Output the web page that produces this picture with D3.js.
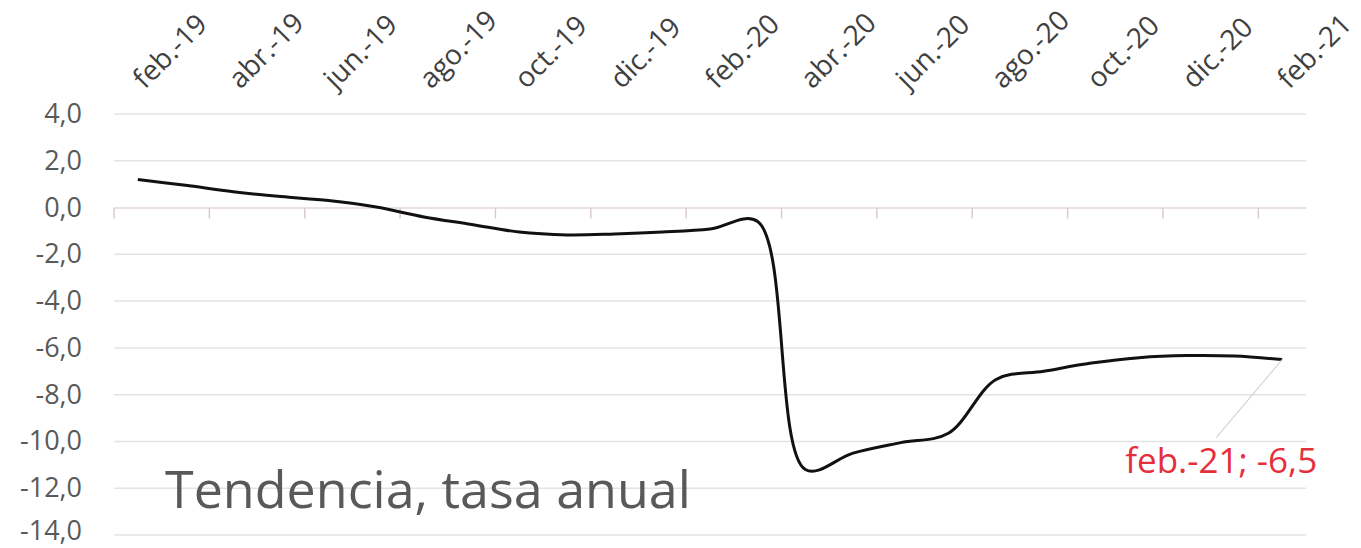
<!DOCTYPE html>
<html>
<head>
<meta charset="utf-8">
<script src="https://cdn.jsdelivr.net/npm/d3@7"></script>
<style>
    body { margin: 0; background: #fff; }
    svg { display: block; font-family: "Open Sans", sans-serif; }
</style>
</head>
<body>
<div id="container"></div>
<script>
const months = ["feb.-19", "mar.-19", "abr.-19", "may.-19", "jun.-19", "jul.-19", "ago.-19", "sep.-19", "oct.-19", "nov.-19", "dic.-19", "ene.-20",
    "feb.-20", "mar.-20", "abr.-20", "may.-20", "jun.-20", "jul.-20", "ago.-20", "sep.-20", "oct.-20", "nov.-20", "dic.-20", "ene.-21", "feb.-21"];
const values = [1.2, 0.95, 0.68, 0.47, 0.3, 0.02, -0.4, -0.72, -1.05, -1.17, -1.13, -1.05,
    -0.92, -0.6, -11.2, -10.5, -10.05, -9.65, -7.35, -7.0, -6.65, -6.42, -6.33, -6.35, -6.5];
const yTicks = [4, 2, 0, -2, -4, -6, -8, -10, -12, -14];
const title = "Tendencia, tasa anual";

document.addEventListener("DOMContentLoaded", () => {
    const w = 1361;
    const h = 548;

    const svg = d3.select("#container")
        .append("svg")
        .attr("width", w)
        .attr("height", h);

    const x = d3.scaleBand()
        .domain(months)
        .range([114, 1306]);

    const y = d3.scaleLinear()
        .domain([-14, 4])
        .range([535, 114]);

    const es = d3.formatLocale({ decimal: ",", thousands: ".", grouping: [3], currency: ["", "€"], minus: "-" });
    const fmt = es.format(".1f");

    // gridlines
    svg.selectAll(".grid")
        .data(yTicks.filter(d => d !== 0))
        .enter().append("line")
        .attr("class", "grid")
        .attr("x1", x.range()[0])
        .attr("x2", x.range()[1])
        .attr("y1", d => y(d))
        .attr("y2", d => y(d))
        .attr("stroke", "#e3e3e3")
        .attr("stroke-width", 1.5);

    // y labels (baseline kept inside the picture)
    svg.selectAll(".ylab")
        .data(yTicks)
        .enter().append("text")
        .attr("class", "ylab")
        .attr("x", 82)
        .attr("y", d => Math.min(y(d) + 9, h - 8))
        .attr("text-anchor", "end")
        .attr("fill", "#595959")
        .style("font-size", "27px")
        .text(d => fmt(d));

    // zero axis with ticks every 2 months
    const xAxis = d3.axisBottom(x)
        .tickValues(months.filter((d, i) => i % 2 === 0))
        .tickSize(11)
        .tickSizeOuter(0)
        .tickFormat("");

    const ax = svg.append("g")
        .attr("transform", `translate(0,${y(0)})`)
        .call(xAxis);
    ax.select(".domain").attr("stroke", "#e6d7d7").attr("stroke-width", 1.5);
    ax.selectAll(".tick line")
        .attr("stroke", "#d9cccc")
        .attr("stroke-width", 1.5)
        .attr("transform", `translate(${-x.bandwidth() / 2},0)`);

    // month labels on top
    svg.selectAll(".xlab")
        .data(months.filter((d, i) => i % 2 === 0))
        .enter().append("text")
        .attr("class", "xlab")
        .attr("transform", d => `translate(${x(d) + x.bandwidth() / 2 + 7},90) rotate(-45)`)
        .attr("fill", "#404040")
        .style("font-size", "28px")
        .text(d => d);

    const line = d3.line()
        .x((d, i) => x(months[i]) + x.bandwidth() / 2)
        .y(d => y(d))
        .curve(d3.curveCatmullRom.alpha(0.5));

    svg.append("path")
        .datum(values)
        .attr("d", line)
        .attr("fill", "none")
        .attr("stroke", "#111")
        .attr("stroke-width", 3)
        .attr("stroke-linejoin", "round");

    // label for last point
    const last = values.length - 1;
    const px = x(months[last]) + x.bandwidth() / 2;
    const py = y(values[last]);
    svg.append("line")
        .attr("x1", px)
        .attr("y1", py)
        .attr("x2", px - 66)
        .attr("y2", py + 78)
        .attr("stroke", "#d4d4d4")
        .attr("stroke-width", 1.2);
    svg.append("text")
        .attr("x", px + 35)
        .attr("y", py + 113)
        .attr("text-anchor", "end")
        .attr("fill", "#e5303c")
        .style("font-size", "35px")
        .text(`${months[last]}; ${fmt(values[last])}`);

    svg.append("text")
        .attr("x", 165)
        .attr("y", 508)
        .attr("fill", "#595959")
        .style("font-size", "52px")
        .text(title);
});
</script>
</body>
</html>
